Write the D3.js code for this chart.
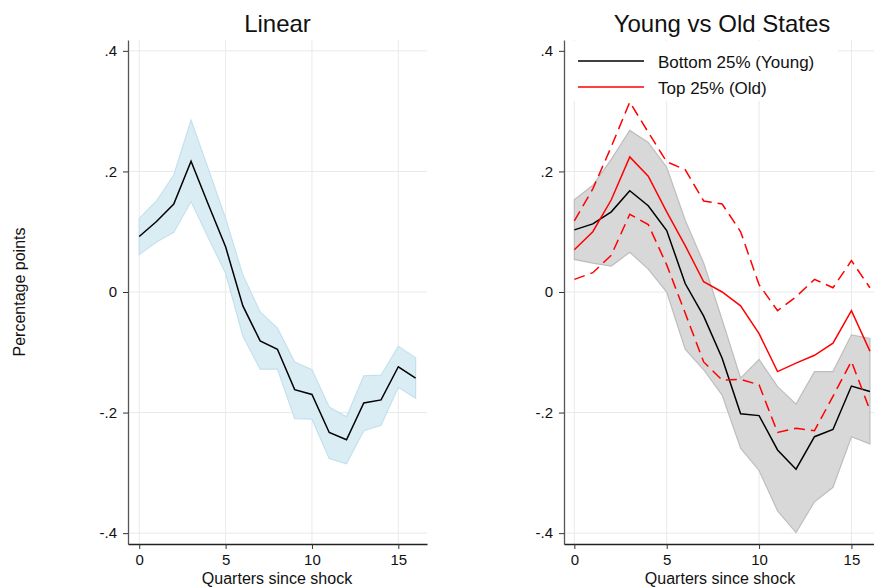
<!DOCTYPE html>
<html>
<head>
<meta charset="utf-8">
<script src="https://cdn.jsdelivr.net/npm/d3@7/dist/d3.min.js"></script>
<style>
  body { margin: 0; background: #fff; }
  svg { display: block; font-family: "Liberation Sans", Arial, Helvetica, sans-serif; }
</style>
</head>
<body>
<svg id="chart" width="874" height="587"></svg>
<script>
// ---- Data ----
const quarters = [0,1,2,3,4,5,6,7,8,9,10,11,12,13,14,15,16];
const xTicks = [0, 5, 10, 15];
const yTicks = [-0.4, -0.2, 0, 0.2, 0.4];
const panelTitles = ["Linear", "Young vs Old States"];
const legendLabels = ["Bottom 25% (Young)", "Top 25% (Old)"];

const linearIRF   = [0.092, 0.117, 0.146, 0.217, 0.145, 0.075, -0.023, -0.081, -0.095, -0.162, -0.170, -0.233, -0.245, -0.184, -0.179, -0.124, -0.143];
const linearUpper = [0.122, 0.151, 0.194, 0.285, 0.204, 0.122, 0.028, -0.033, -0.060, -0.116, -0.129, -0.191, -0.207, -0.139, -0.138, -0.090, -0.109];
const linearLower = [0.062, 0.083, 0.099, 0.150, 0.090, 0.031, -0.073, -0.128, -0.128, -0.210, -0.211, -0.276, -0.285, -0.230, -0.221, -0.158, -0.176];

const youngIRF   = [0.103, 0.113, 0.133, 0.168, 0.143, 0.102, 0.014, -0.040, -0.110, -0.202, -0.205, -0.262, -0.294, -0.240, -0.228, -0.156, -0.165];
const youngUpper = [0.153, 0.177, 0.220, 0.268, 0.248, 0.207, 0.119, 0.048, -0.046, -0.143, -0.112, -0.157, -0.186, -0.132, -0.132, -0.071, -0.077];
const youngLower = [0.054, 0.048, 0.043, 0.066, 0.038, 0.000, -0.095, -0.129, -0.171, -0.259, -0.296, -0.363, -0.399, -0.348, -0.324, -0.240, -0.252];

const oldIRF   = [0.070, 0.100, 0.153, 0.224, 0.192, 0.133, 0.077, 0.017, 0.000, -0.023, -0.069, -0.132, -0.118, -0.105, -0.085, -0.031, -0.098];
const oldUpper = [0.118, 0.171, 0.241, 0.315, 0.265, 0.216, 0.203, 0.151, 0.146, 0.100, 0.012, -0.031, -0.008, 0.021, 0.007, 0.052, 0.007];
const oldLower = [0.021, 0.032, 0.061, 0.129, 0.112, 0.045, -0.035, -0.116, -0.146, -0.145, -0.154, -0.233, -0.226, -0.230, -0.173, -0.115, -0.196];

// ---- Layout ----
const svg = d3.select("#chart");
const yScale = d3.scaleLinear().domain([-0.418, 0.418]).range([544, 40]);
const panels = [
  { x: d3.scaleLinear().domain([-0.65, 16.66]).range([128, 427]), title: panelTitles[0] },
  { x: d3.scaleLinear().domain([-0.56, 16.6]).range([564, 881]), title: panelTitles[1] }
];
const fmt = v => v === 0 ? "0" : (v < 0 ? "-" : "") + "." + Math.round(Math.abs(v) * 10);
const gridColor = "#e9e9e9";

panels.forEach((p, i) => {
  const g = svg.append("g");
  const [x0, x1] = p.x.range();
  // grid
  g.selectAll(".gx").data(xTicks).enter().append("line")
    .attr("x1", d => p.x(d)).attr("x2", d => p.x(d))
    .attr("y1", 40).attr("y2", 544)
    .attr("stroke", gridColor).attr("stroke-width", 1);
  g.selectAll(".gy").data(yTicks).enter().append("line")
    .attr("x1", x0).attr("x2", x1)
    .attr("y1", d => yScale(d)).attr("y2", d => yScale(d))
    .attr("stroke", gridColor).attr("stroke-width", 1);

  // axes
  const ya = g.append("g").attr("transform", `translate(${x0},0)`)
    .call(d3.axisLeft(yScale).tickValues(yTicks).tickFormat(fmt).tickSize(5).tickSizeOuter(0).tickPadding(6));
  const xa = g.append("g").attr("transform", `translate(0,544)`)
    .call(d3.axisBottom(p.x).tickValues(xTicks).tickFormat(d3.format("d")).tickSize(5).tickSizeOuter(0).tickPadding(5));
  ya.selectAll("path").attr("stroke", "#555").attr("stroke-width", 1.3);
  xa.selectAll("path").attr("stroke", "#222").attr("stroke-width", 1.3);
  [ya, xa].forEach(a => {
    a.selectAll("line").attr("stroke", "#333").attr("stroke-width", 1);
    a.selectAll("text").attr("font-size", 15).attr("fill", "#111")
      .attr("font-family", "'Liberation Sans', Arial, sans-serif");
  });

  // title
  g.append("text").attr("x", i === 0 ? 277.5 : 722).attr("y", 32)
    .attr("text-anchor", "middle").attr("font-size", 24).attr("fill", "#111").text(p.title);
  // x label
  g.append("text").attr("x", i === 0 ? 277 : 720).attr("y", 583.5)
    .attr("text-anchor", "middle").attr("font-size", 16).attr("fill", "#111").text("Quarters since shock");
});

svg.append("text").attr("transform", "translate(25,292) rotate(-90)")
  .attr("text-anchor", "middle").attr("font-size", 16).attr("fill", "#111").text("Percentage points");

// ---- Series ----
function area(xs, lo, hi) {
  return d3.area().x((d, i) => xs(quarters[i])).y0((d, i) => yScale(lo[i])).y1((d, i) => yScale(hi[i]))(quarters);
}
function line(xs, vals) {
  return d3.line().x((d, i) => xs(quarters[i])).y((d, i) => yScale(vals[i]))(quarters);
}

const L = panels[0].x, R = panels[1].x;
svg.append("clipPath").attr("id", "clipR").append("rect").attr("x", 564).attr("y", 0).attr("width", 320).attr("height", 544);

// Left panel
svg.append("path").attr("d", area(L, linearLower, linearUpper))
  .attr("fill", "#dbedf4").attr("stroke", "#c3e1ec").attr("stroke-width", 1.2);
svg.append("path").attr("d", line(L, linearIRF))
  .attr("fill", "none").attr("stroke", "#000").attr("stroke-width", 1.5);

// Right panel
const gr = svg.append("g").attr("clip-path", "url(#clipR)");
gr.append("path").attr("d", area(R, youngLower, youngUpper))
  .attr("fill", "#d8d8d8").attr("stroke", "#bdbdbd").attr("stroke-width", 1.2);
gr.append("path").attr("d", line(R, youngIRF))
  .attr("fill", "none").attr("stroke", "#000").attr("stroke-width", 1.5);
gr.append("path").attr("d", line(R, oldIRF))
  .attr("fill", "none").attr("stroke", "#ff0000").attr("stroke-width", 1.5);
[oldUpper, oldLower].forEach(arr => {
  gr.append("path").attr("d", line(R, arr))
    .attr("fill", "none").attr("stroke", "#ff0000").attr("stroke-width", 1.5)
    .attr("stroke-dasharray", "11,6");
});

// Legend
const lg = svg.append("g");
lg.append("rect").attr("x", 566).attr("y", 41).attr("width", 272).attr("height", 60).attr("fill", "#fff");
const legendColors = ["#000", "#ff0000"];
legendLabels.forEach((lab, i) => {
  const yy = 61 + i * 26;
  lg.append("line").attr("x1", 578).attr("x2", 644).attr("y1", yy).attr("y2", yy)
    .attr("stroke", legendColors[i]).attr("stroke-width", 1.5);
  lg.append("text").attr("x", 658).attr("y", yy + 7).attr("font-size", 17).attr("fill", "#111").text(lab);
});
</script>
</body>
</html>
